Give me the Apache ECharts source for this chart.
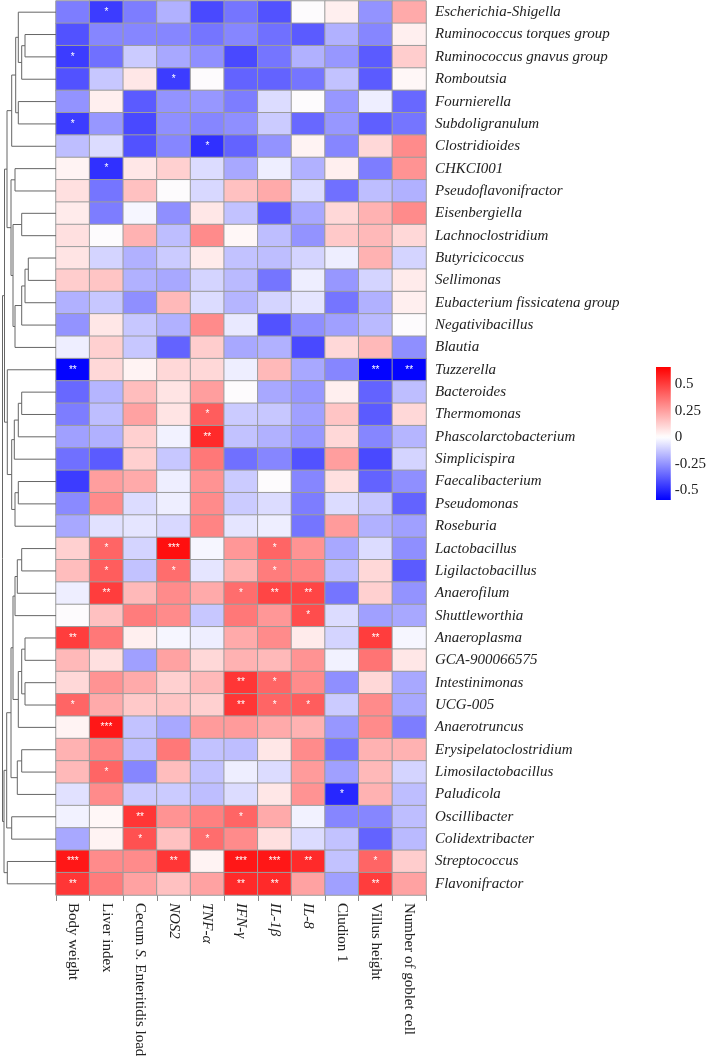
<!DOCTYPE html>
<html><head><meta charset="utf-8">
<script src="https://cdn.jsdelivr.net/npm/echarts@6/dist/echarts.min.js"></script>
<style>html,body{margin:0;padding:0;background:#fff}#c{width:709px;height:1063px}</style>
</head><body><div id="c"></div>
<script>
const taxa = ['Escherichia-Shigella','Ruminococcus torques group','Ruminococcus gnavus group','Romboutsia','Fournierella','Subdoligranulum','Clostridioides','CHKCI001','Pseudoflavonifractor','Eisenbergiella','Lachnoclostridium','Butyricicoccus','Sellimonas','Eubacterium fissicatena group','Negativibacillus','Blautia','Tuzzerella','Bacteroides','Thermomonas','Phascolarctobacterium','Simplicispira','Faecalibacterium','Pseudomonas','Roseburia','Lactobacillus','Ligilactobacillus','Anaerofilum','Shuttleworthia','Anaeroplasma','GCA-900066575','Intestinimonas','UCG-005','Anaerotruncus','Erysipelatoclostridium','Limosilactobacillus','Paludicola','Oscillibacter','Colidextribacter','Streptococcus','Flavonifractor'];

const variables = ['Body weight','Liver index','Cecum S. Enteritidis load','NOS2','TNF-α','IFN-γ','IL-1β','IL-8','Cludion 1','Villus height','Number of goblet cell'];

const values = [
[-0.30,-0.45,-0.30,-0.18,-0.42,-0.32,-0.40, 0.00, 0.04,-0.25, 0.22],
[-0.40,-0.28,-0.28,-0.28,-0.32,-0.28,-0.33,-0.38,-0.18,-0.28, 0.04],
[-0.45,-0.33,-0.12,-0.20,-0.26,-0.42,-0.32,-0.18,-0.24,-0.38, 0.13],
[-0.40,-0.13, 0.06,-0.45, 0.00,-0.36,-0.36,-0.32,-0.14,-0.38, 0.02],
[-0.25, 0.04,-0.38,-0.25,-0.24,-0.30,-0.08, 0.00,-0.24,-0.04,-0.35],
[-0.45,-0.24,-0.42,-0.26,-0.28,-0.26,-0.12,-0.35,-0.24,-0.37,-0.32],
[-0.15,-0.08,-0.40,-0.28,-0.48,-0.36,-0.25, 0.03,-0.28, 0.10, 0.30],
[ 0.03,-0.48, 0.06, 0.12,-0.08,-0.20,-0.04,-0.18, 0.04,-0.30, 0.28],
[ 0.08,-0.32, 0.16, 0.00,-0.09, 0.16, 0.22,-0.08,-0.33,-0.15,-0.18],
[ 0.05,-0.30,-0.02,-0.26, 0.06,-0.14,-0.38,-0.20, 0.10, 0.20, 0.30],
[ 0.08, 0.00, 0.20,-0.15, 0.30, 0.02,-0.15,-0.25, 0.14, 0.18, 0.10],
[ 0.07,-0.10,-0.18,-0.12, 0.05,-0.14,-0.15,-0.10,-0.04, 0.20,-0.10],
[ 0.13, 0.15,-0.18,-0.20,-0.10,-0.16,-0.32,-0.04,-0.24,-0.10, 0.05],
[-0.18,-0.13,-0.26, 0.18,-0.08,-0.17,-0.10,-0.06,-0.32,-0.18, 0.04],
[-0.25, 0.06,-0.13,-0.18, 0.30,-0.05,-0.40,-0.26,-0.22,-0.16, 0.00],
[-0.04, 0.12,-0.13,-0.36, 0.13,-0.20,-0.18,-0.42, 0.10, 0.18,-0.26],
[-0.58, 0.10, 0.03, 0.10, 0.10,-0.04, 0.18,-0.20,-0.28,-0.58,-0.58],
[-0.35,-0.17, 0.17, 0.07, 0.25, 0.00,-0.20,-0.24, 0.04,-0.36,-0.15],
[-0.30,-0.15, 0.24, 0.07, 0.42,-0.12,-0.13,-0.22, 0.15,-0.38, 0.10],
[-0.22,-0.18, 0.12,-0.03, 0.55,-0.14,-0.18,-0.24, 0.10,-0.28,-0.17],
[-0.33,-0.38, 0.12,-0.13, 0.35,-0.33,-0.28,-0.40, 0.25,-0.42,-0.10],
[-0.45, 0.25, 0.22,-0.04, 0.28,-0.12, 0.00,-0.28, 0.08,-0.36,-0.26],
[-0.27, 0.30,-0.08,-0.04, 0.30,-0.12,-0.08,-0.30,-0.08,-0.13,-0.36],
[-0.20,-0.07,-0.06,-0.09, 0.32,-0.06,-0.04,-0.32, 0.26,-0.18,-0.22],
[ 0.12, 0.40,-0.10, 0.62,-0.02, 0.27, 0.40, 0.28,-0.20,-0.08,-0.26],
[ 0.17, 0.42,-0.14, 0.38,-0.06, 0.20, 0.34, 0.32,-0.15, 0.10,-0.38],
[-0.04, 0.50, 0.18, 0.30, 0.22, 0.38, 0.48, 0.48,-0.32, 0.12,-0.25],
[ 0.00, 0.16, 0.34, 0.30,-0.13, 0.35, 0.27, 0.46,-0.08,-0.22,-0.20],
[ 0.50, 0.35, 0.04,-0.02,-0.04, 0.22, 0.30, 0.05,-0.10, 0.50,-0.02],
[ 0.18, 0.08,-0.22, 0.24, 0.10, 0.20, 0.18, 0.28,-0.03, 0.36, 0.06],
[ 0.10, 0.28, 0.22, 0.12, 0.18, 0.52, 0.40, 0.30,-0.26, 0.10,-0.20],
[ 0.40, 0.22, 0.14, 0.15, 0.12, 0.52, 0.40, 0.42,-0.12, 0.30,-0.20],
[ 0.03, 0.60,-0.14,-0.20, 0.26, 0.26, 0.22, 0.20,-0.24, 0.30,-0.30],
[ 0.20, 0.32,-0.15, 0.35,-0.14,-0.15, 0.06, 0.30,-0.32, 0.20, 0.20],
[ 0.18, 0.40,-0.28, 0.17,-0.14,-0.04,-0.08, 0.26,-0.22, 0.18,-0.10],
[-0.07, 0.30,-0.12,-0.12,-0.15,-0.08, 0.06, 0.28,-0.50, 0.20,-0.15],
[-0.03, 0.02, 0.52, 0.28, 0.33, 0.40, 0.22,-0.03,-0.28,-0.28,-0.15],
[-0.20, 0.03, 0.45, 0.16, 0.38, 0.30, 0.08,-0.08,-0.14,-0.36,-0.16],
[ 0.60, 0.30, 0.30, 0.52, 0.03, 0.60, 0.60, 0.55,-0.14, 0.40, 0.13],
[ 0.52, 0.34, 0.24, 0.16, 0.24, 0.55, 0.55, 0.24,-0.22, 0.50, 0.24]
];

// [row, column, significance]
const sigMarks = [
[0,1,'*'],[2,0,'*'],[3,3,'*'],[5,0,'*'],[6,4,'*'],[7,1,'*'],
[16,0,'**'],[16,9,'**'],[16,10,'**'],[18,4,'*'],[19,4,'**'],
[24,1,'*'],[24,3,'***'],[24,6,'*'],[25,1,'*'],[25,3,'*'],[25,6,'*'],
[26,1,'**'],[26,5,'*'],[26,6,'**'],[26,7,'**'],[27,7,'*'],
[28,0,'**'],[28,9,'**'],[30,5,'**'],[30,6,'*'],
[31,0,'*'],[31,5,'**'],[31,6,'*'],[31,7,'*'],[32,1,'***'],[34,1,'*'],[35,8,'*'],
[36,2,'**'],[36,5,'*'],[37,2,'*'],[37,4,'*'],
[38,0,'***'],[38,3,'**'],[38,5,'***'],[38,6,'***'],[38,7,'**'],[38,9,'*'],
[39,0,'**'],[39,5,'**'],[39,6,'**'],[39,9,'**']
];

const colorTicks = [-0.5, -0.25, 0, 0.25, 0.5];
const colorMin = -0.59, colorMax = 0.66;

// row dendrogram merges: [childA, childB, height]; numbers = leaf row, 'nK' = merge K
const merges = [
[1,2,31],['n0',3,34.3],[0,'n1',37.7],[4,5,37.7],['n2','n3',40.3],['n4',6,44.3],
[7,8,41],[9,10,34.3],[11,12,27.7],['n8',13,31],['n9',14,34.3],['n10',15,41],
['n7','n11',43],['n6','n12',45],['n5','n13',49],
[17,18,34.3],['n15',19,37.7],['n16',20,41.7],[21,22,37.7],['n18',23,41],
['n17','n19',44.3],[16,'n20',48.7],['n14','n21',51.5],
[24,25,34.3],['n23',26,38.7],['n24',27,41],[28,29,31],[30,31,31],['n26','n27',34.3],
['n28',32,37.7],['n25','n29',43],[33,34,34.3],['n31',35,38.7],['n30','n32',45],
[36,37,44.3],['n33','n34',49.3],[38,39,48.7],['n35','n36',52],['n22','n37',53.5]
];

function colorAt(v){
  let r,g,b;
  if (v >= 0){ const t = Math.min(1, v/colorMax); r=255; g=b=Math.round(255*(1-t)); }
  else { const t = Math.min(1, v/colorMin); b=255; r=g=Math.round(255*(1-t)); }
  return 'rgb('+r+','+g+','+b+')';
}
const nStops = 60;
const rampColors = [];
for (let i=0;i<=nStops;i++){ rampColors.push(colorAt(colorMin + (colorMax-colorMin)*i/nStops)); }
const gradStops = [];
for (let i=0;i<=nStops;i++){ gradStops.push({offset:i/nStops, color: colorAt(colorMax - (colorMax-colorMin)*i/nStops)}); }

const sigMap = {};
sigMarks.forEach(s => { sigMap[s[0]+'_'+s[1]] = s[2]; });

const heatData = [];
values.forEach((row, r) => row.forEach((v, c) => heatData.push([c, r, v])));

// dendrogram coordinates
const nodeInfo = [];
function info(ref){
  if (typeof ref === 'number') return {y: ref + 0.5, h: 0};
  return nodeInfo[parseInt(ref.slice(1))];
}
const dendroLines = [];
merges.forEach((m, k) => {
  const a = info(m[0]), b = info(m[1]), h = m[2];
  dendroLines.push({coords: [[a.h, a.y],[h, a.y],[h, b.y],[b.h, b.y]]});
  nodeInfo[k] = {y: (a.y + b.y)/2, h: h};
});

const serif = 'Liberation Serif, Times New Roman, serif';
const xLabelFmt = v => {
  if (v === 'Cecum S. Enteritidis load') return '{n|Cecum }{i|S.}{n| Enteritidis load}';
  if (['NOS2','TNF-α','IFN-γ','IL-1β','IL-8'].includes(v)) return '{i|' + v + '}';
  return '{n|' + v + '}';
};

const chart = echarts.init(document.getElementById('c'), null, {renderer:'canvas'});
chart.setOption({
  animation: false,
  backgroundColor: '#fff',
  grid: [
    {left: 56, top: 1, width: 370, height: 894},
    {left: 0, top: 1, width: 56, height: 894},
    {left: 656, top: 367, width: 18, height: 133}
  ],
  xAxis: [
    {type: 'category', gridIndex: 0, data: variables, position: 'bottom',
     axisLine: {show: false}, axisTick: {show: true, length: 6, lineStyle: {color: '#888'}},
     splitLine: {show: false},
     axisLabel: {rotate: -90, margin: 8, color: '#222', formatter: xLabelFmt,
       rich: {n: {fontFamily: serif, fontSize: 15, color: '#222'},
              i: {fontFamily: serif, fontSize: 15, fontStyle: 'italic', color: '#222'}}}},
    {type: 'value', gridIndex: 1, min: 0, max: 56, inverse: true, show: false},
    {type: 'value', gridIndex: 2, min: 0, max: 1, show: false}
  ],
  yAxis: [
    {type: 'category', gridIndex: 0, data: taxa, inverse: true, position: 'right',
     axisLine: {show: false}, axisTick: {show: false}, splitLine: {show: false},
     axisLabel: {margin: 9, fontFamily: serif, fontStyle: 'italic', fontSize: 15, color: '#222'}},
    {type: 'value', gridIndex: 1, min: 0, max: 40, inverse: true, show: false},
    {type: 'value', gridIndex: 2, min: colorMin, max: colorMax, position: 'right',
     axisLine: {show: false}, splitLine: {show: false},
     axisTick: {show: true, inside: true, length: 4, customValues: colorTicks, lineStyle: {color: '#fff', width: 1}},
     axisLabel: {margin: 4, customValues: colorTicks, fontFamily: serif, fontSize: 15, color: '#222',
       formatter: v => String(v)}},
    {type: 'value', gridIndex: 2, min: colorMin, max: colorMax, position: 'left',
     axisLine: {show: false}, splitLine: {show: false},
     axisTick: {show: true, inside: true, length: 4, customValues: colorTicks, lineStyle: {color: '#fff', width: 1}},
     axisLabel: {show: false}}
  ],
  visualMap: {
    type: 'continuous', show: false, seriesIndex: 0, dimension: 2,
    min: colorMin, max: colorMax, inRange: {color: rampColors}
  },
  series: [
    {type: 'heatmap', xAxisIndex: 0, yAxisIndex: 0, data: heatData,
     itemStyle: {borderColor: '#9c9c9c', borderWidth: 1},
     label: {show: true, color: '#fff', fontSize: 10, fontFamily: 'Liberation Sans, Arial, sans-serif',
       formatter: p => sigMap[p.value[1] + '_' + p.value[0]] || ''},
     emphasis: {disabled: true}},
    {type: 'lines', coordinateSystem: 'cartesian2d', xAxisIndex: 1, yAxisIndex: 1, polyline: true,
     silent: true, data: dendroLines, lineStyle: {color: '#666', width: 1, opacity: 1}},
    {type: 'custom', xAxisIndex: 2, yAxisIndex: 2, silent: true,
     data: [[0, colorMin, 1, colorMax]],
     renderItem: (params, api) => {
       const p1 = api.coord([api.value(0), api.value(3)]);
       const p2 = api.coord([api.value(2), api.value(1)]);
       return {type: 'rect', shape: {x: p1[0], y: p1[1], width: p2[0]-p1[0], height: p2[1]-p1[1]},
         style: {fill: {type: 'linear', x: 0, y: 0, x2: 0, y2: 1, colorStops: gradStops}}};
     }}
  ]
});
</script></body></html>
